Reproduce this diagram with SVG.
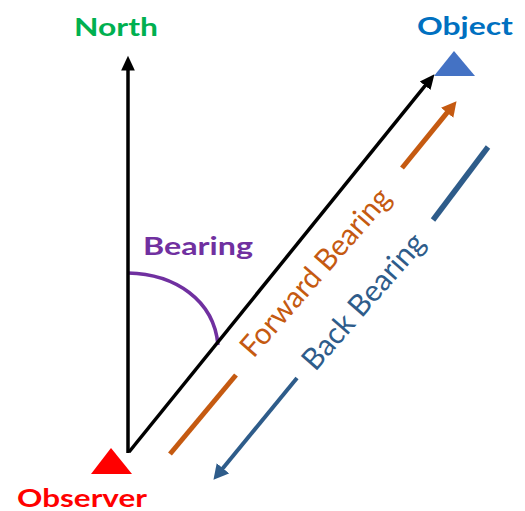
<svg xmlns="http://www.w3.org/2000/svg" width="525" height="511" viewBox="0 0 525 511">
  <style>
    .lbl { font-family: Lato, "Liberation Sans", sans-serif; font-weight: 700; font-size: 25px; }
    .rot { font-family: Lato, "Liberation Sans", sans-serif; font-weight: 400; font-size: 30px; }
    .blk { stroke: #000; stroke-width: 3.5; fill: none; }
    .org { stroke: #C55A11; stroke-width: 5; fill: none; }
    .blu { stroke: #2E5C8A; fill: none; }
  </style>
  <defs>
    <marker id="ahK" markerUnits="userSpaceOnUse" markerWidth="16" markerHeight="16" viewBox="0 0 14 12" refX="4" refY="6" orient="auto">
      <path d="M0,0 L13,6 L0,12 z" fill="#000"/>
    </marker>
    <marker id="ahO" markerUnits="userSpaceOnUse" markerWidth="16" markerHeight="16" viewBox="0 0 14 14" refX="4" refY="7" orient="auto">
      <path d="M0,0 L13,7 L0,14 z" fill="#C55A11"/>
    </marker>
    <marker id="ahB" markerUnits="userSpaceOnUse" markerWidth="16" markerHeight="16" viewBox="0 0 14 14" refX="4" refY="7" orient="auto">
      <path d="M0,0 L13,7 L0,14 z" fill="#2E5C8A"/>
    </marker>
  </defs>

  <g id="north">
    <text class="lbl" x="116" y="36" text-anchor="middle" fill="#00B050" textLength="84" lengthAdjust="spacingAndGlyphs">North</text>
  </g>
  <g id="object">
    <polygon points="434,76 454,51 475,76" fill="#4472C4"/>
    <text class="lbl" x="465" y="35" text-anchor="middle" fill="#0070C0" textLength="96" lengthAdjust="spacingAndGlyphs">Object</text>
  </g>
  <g id="observer">
    <polygon points="91,474 111,448 132,474" fill="#FF0000"/>
    <text class="lbl" x="82" y="507" text-anchor="middle" fill="#FF0000" textLength="130" lengthAdjust="spacingAndGlyphs">Observer</text>
  </g>
  <g id="bearing">
    <path d="M128,273 C175,274 214,300 218,345" stroke="#7030A0" stroke-width="3.5" fill="none"/>
    <text class="lbl" x="198" y="255" text-anchor="middle" fill="#7030A0" textLength="110" lengthAdjust="spacingAndGlyphs">Bearing</text>
  </g>

  <g id="connectors">
    <line class="blk" x1="128" y1="453" x2="128" y2="66" marker-end="url(#ahK)"/>
    <line class="blk" x1="129" y1="452" x2="428" y2="82.2" marker-end="url(#ahK)"/>
    <line class="org" x1="170" y1="454" x2="236" y2="375"/>
    <line class="org" x1="402" y1="168" x2="450" y2="109.2" marker-end="url(#ahO)"/>
    <line class="blu" stroke-width="5.5" x1="488" y1="147" x2="433" y2="220"/>
    <line class="blu" stroke-width="4" x1="297" y1="378" x2="220" y2="471.8" marker-end="url(#ahB)"/>
  </g>

  <g id="forward-bearing">
    <text class="rot" x="323" y="279" text-anchor="middle" fill="#C55A11" transform="rotate(-49 323 279)" textLength="212" lengthAdjust="spacingAndGlyphs">Forward Bearing</text>
  </g>
  <g id="back-bearing">
    <text class="rot" x="371" y="308" text-anchor="middle" fill="#2E5C8A" transform="rotate(-49 371 308)" textLength="170" lengthAdjust="spacingAndGlyphs">Back Bearing</text>
  </g>
</svg>
